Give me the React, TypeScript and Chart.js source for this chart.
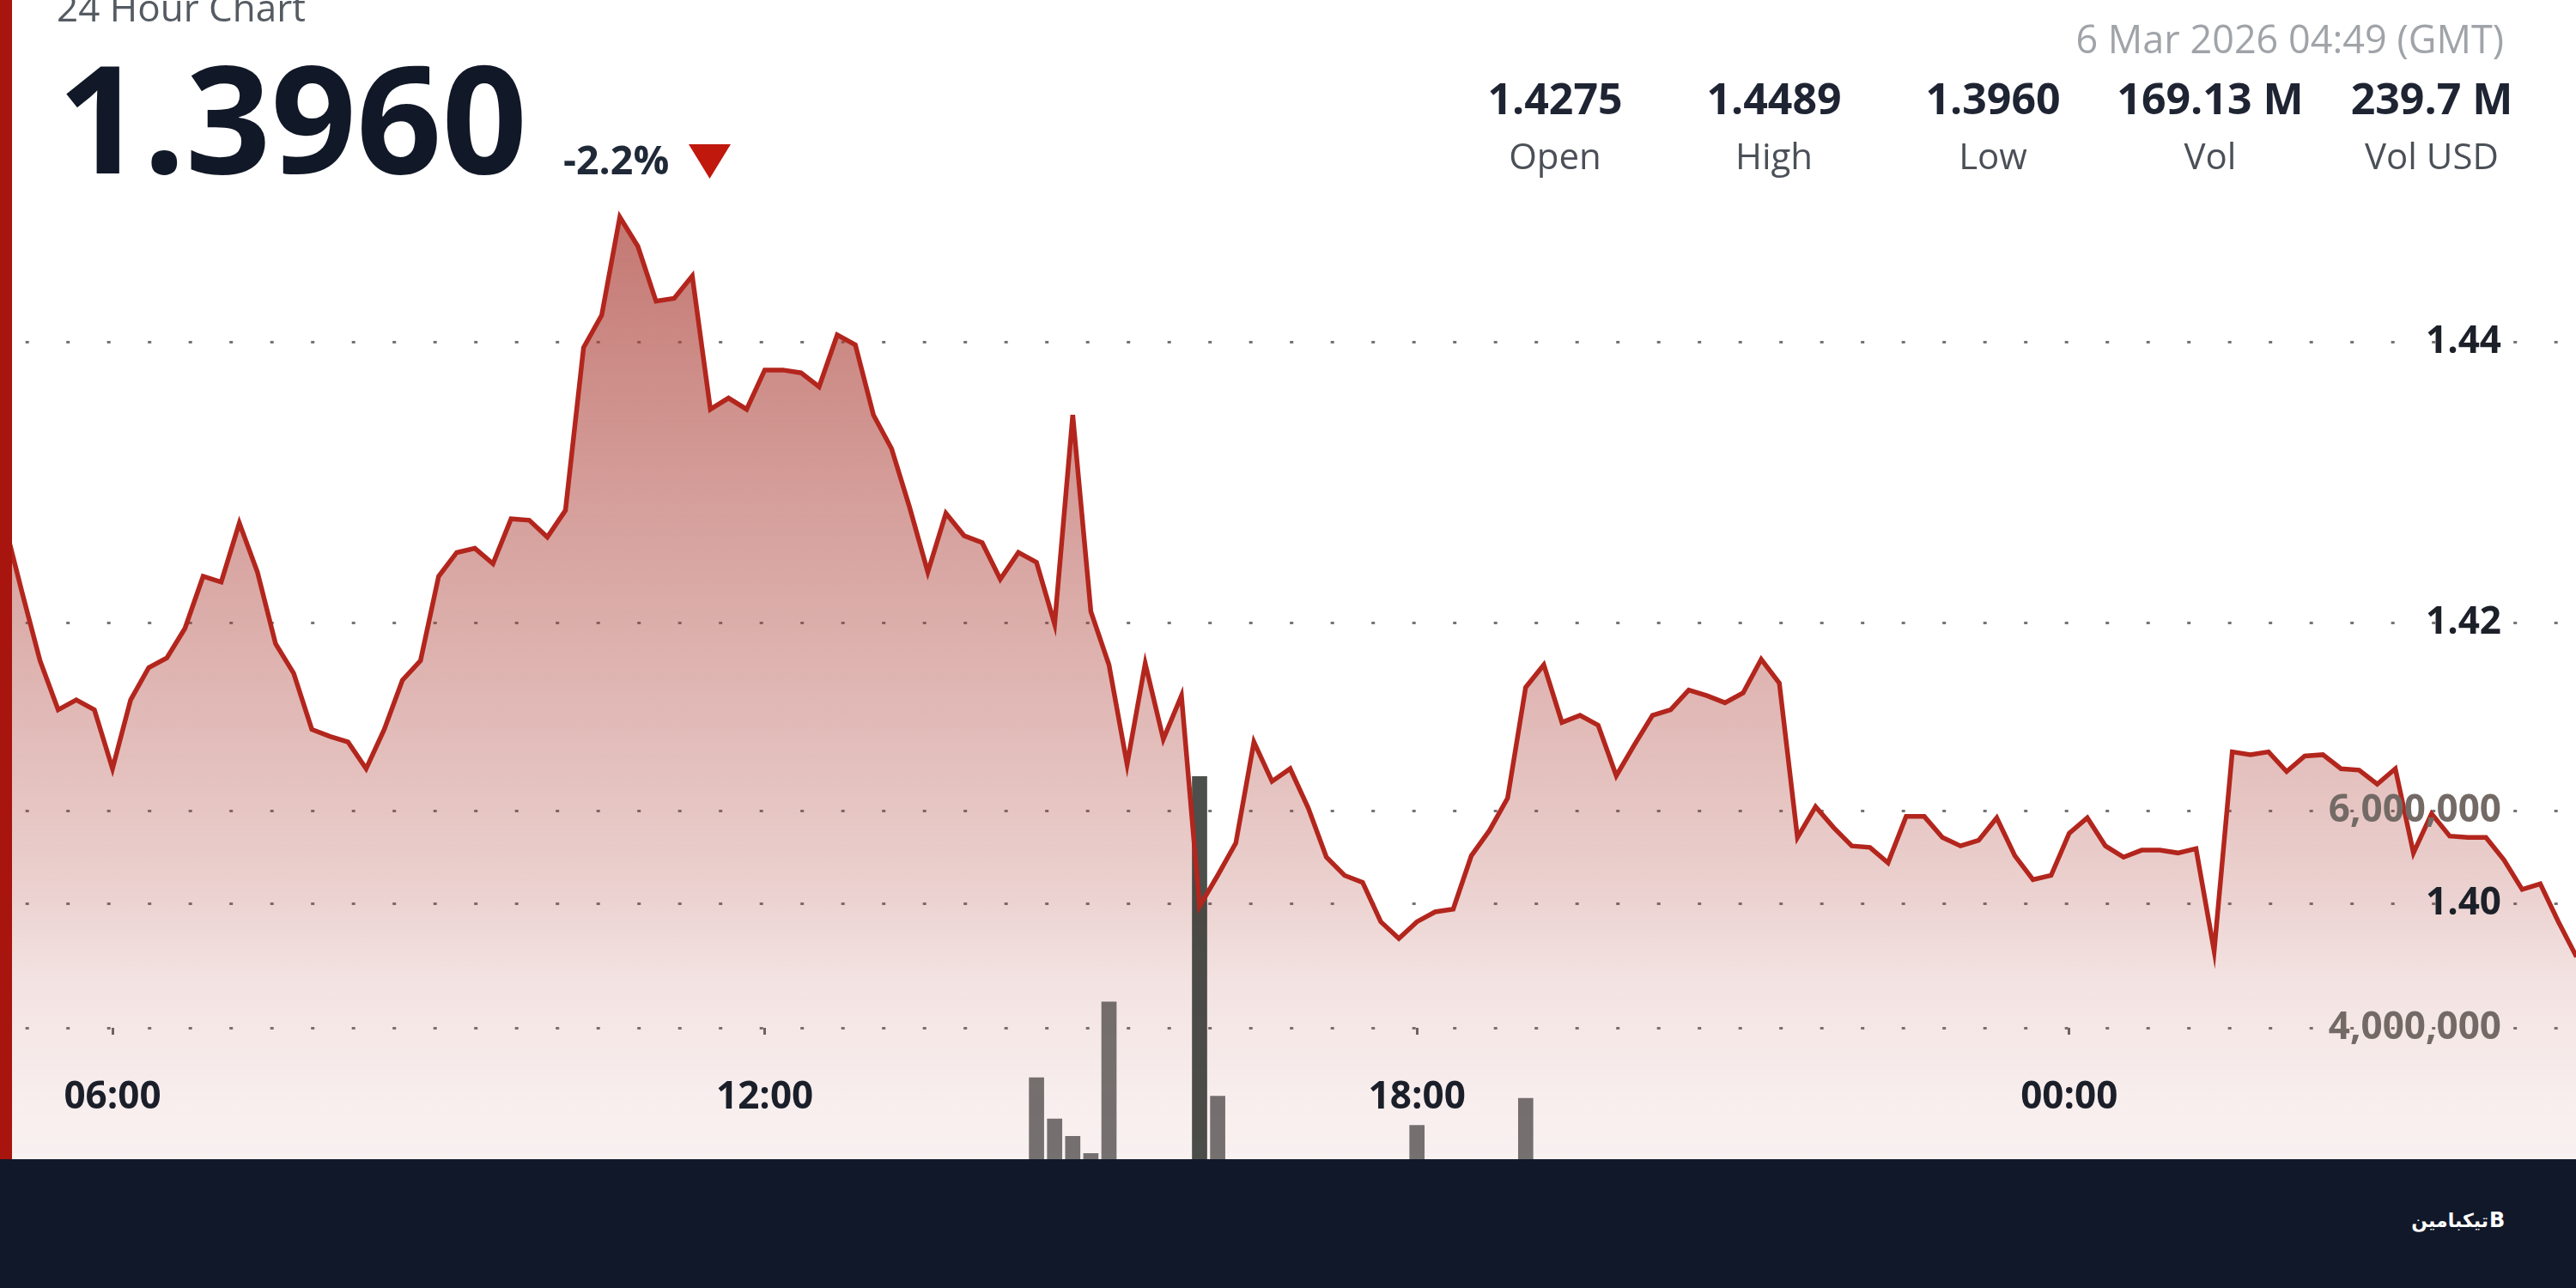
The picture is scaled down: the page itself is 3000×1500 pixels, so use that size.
import React, { useEffect, useRef } from "react";
import { Chart, registerables } from "chart.js";

Chart.register(...registerables);

// ---------- data ----------
const priceTimes: string[] = [
  "05:00", "05:10", "05:20", "05:30", "05:40", "05:50",
  "06:00", "06:10", "06:20", "06:30", "06:40", "06:50",
  "07:00", "07:10", "07:20", "07:30", "07:40", "07:50",
  "08:00", "08:10", "08:20", "08:30", "08:40", "08:50",
  "09:00", "09:10", "09:20", "09:30", "09:40", "09:50",
  "10:00", "10:10", "10:20", "10:30", "10:40", "10:50",
  "11:00", "11:10", "11:20", "11:30", "11:40", "11:50",
  "12:00", "12:10", "12:20", "12:30", "12:40", "12:50",
  "13:00", "13:10", "13:20", "13:30", "13:40", "13:50",
  "14:00", "14:10", "14:20", "14:30", "14:40", "14:50",
  "15:00", "15:10", "15:20", "15:30", "15:40", "15:50",
  "16:00", "16:10", "16:20", "16:30", "16:40", "16:50",
  "17:00", "17:10", "17:20", "17:30", "17:40", "17:50",
  "18:00", "18:10", "18:20", "18:30", "18:40", "18:50",
  "19:00", "19:10", "19:20", "19:30", "19:40", "19:50",
  "20:00", "20:10", "20:20", "20:30", "20:40", "20:50",
  "21:00", "21:10", "21:20", "21:30", "21:40", "21:50",
  "22:00", "22:10", "22:20", "22:30", "22:40", "22:50",
  "23:00", "23:10", "23:20", "23:30", "23:40", "23:50",
  "00:00", "00:10", "00:20", "00:30", "00:40", "00:50",
  "01:00", "01:10", "01:20", "01:30", "01:40", "01:50",
  "02:00", "02:10", "02:20", "02:30", "02:40", "02:50",
  "03:00", "03:10", "03:20", "03:30", "03:40", "03:50",
  "04:00", "04:10", "04:20", "04:30", "04:40",
];

const priceValues: number[] = [
  1.4273, 1.4222, 1.4173, 1.4138, 1.4145, 1.4138,
  1.4096, 1.4145, 1.4168, 1.4175, 1.4196, 1.4233,
  1.4229, 1.4271, 1.4236, 1.4185, 1.4164, 1.4124,
  1.4119, 1.4115, 1.4096, 1.4124, 1.4159, 1.4173,
  1.4233, 1.425, 1.4253, 1.4242, 1.4274, 1.4273,
  1.4261, 1.428, 1.4396, 1.4419, 1.4489, 1.4468,
  1.4429, 1.4431, 1.4447, 1.4352, 1.436, 1.4352,
  1.438, 1.438, 1.4378, 1.4368, 1.4405, 1.4398,
  1.4348, 1.4324, 1.4282, 1.4236, 1.4278, 1.4262,
  1.4257, 1.4231, 1.425, 1.4243, 1.4199, 1.4348,
  1.4208, 1.417, 1.4099, 1.4171, 1.4117, 1.4148,
  1.3998, 1.402, 1.4043, 1.4115, 1.4087, 1.4096,
  1.4068, 1.4033, 1.402, 1.4015, 1.3987, 1.3975,
  1.3987, 1.3994, 1.3996, 1.4034, 1.4052, 1.4075,
  1.4154, 1.417, 1.4129, 1.4134, 1.4127, 1.4091,
  1.4113, 1.4134, 1.4138, 1.4152, 1.4148, 1.4143,
  1.415, 1.4174, 1.4157, 1.4047, 1.4069, 1.4054,
  1.4041, 1.404, 1.4029, 1.4062, 1.4062, 1.4047,
  1.4041, 1.4045, 1.4061, 1.4034, 1.4017, 1.402,
  1.405, 1.4061, 1.4041, 1.4033, 1.4038, 1.4038,
  1.4036, 1.4039, 1.3966, 1.4108, 1.4106, 1.4108,
  1.4094, 1.4105, 1.4106, 1.4096, 1.4095, 1.4085,
  1.4096, 1.4036, 1.4064, 1.4048, 1.4047, 1.4047,
  1.4031, 1.401, 1.4014, 1.3987, 1.3962,
];

const volumeTimes: string[] = ["14:30", "14:40", "14:50", "15:00", "15:10", "16:00", "16:10", "18:00", "19:00"];
const volumeValues: number[] = [3540000, 3160000, 3000000, 2840000, 4240000, 6320000, 3370000, 3100000, 3350000];

const priceTicks: number[] = [1.4, 1.42, 1.44];
const volumeTicks: number[] = [4000000, 6000000];
const timeTicks: string[] = ["06:00", "12:00", "18:00", "00:00"];

const statValues: string[] = ["1.4275", "1.4489", "1.3960", "169.13 M", "239.7 M"];
const statLabels: string[] = ["Open", "High", "Low", "Vol", "Vol USD"];

const chartTitle = "24 Hour Chart";
const lastPrice = "1.3960";
const changeText = "-2.2%";
const timestampText = "6 Mar 2026 04:49 (GMT)";
const brandText = "تیکبامین";

// ---------- helpers ----------
function toHours(label: string): number {
  const [h, m] = label.split(":").map(Number);
  const t = h + m / 60;
  return t < 5 ? t + 24 : t;
}

const zeroPad = (s: any) => {
  s.paddingTop = 0;
  s.paddingBottom = 0;
  s.paddingLeft = 0;
  s.paddingRight = 0;
};

const gridDash = { display: false, dash: [4, 43.5], dashOffset: 17.8 };
const axisFont = { family: "'Open Sans'", weight: "bold", size: 44 };

function ChartCanvas() {
  const ref = useRef<HTMLCanvasElement | null>(null);

  useEffect(() => {
    const canvas = ref.current;
    if (!canvas) return;
    const chart = new Chart(canvas, {
      type: "line",
      data: {
        datasets: [
          {
            type: "line",
            data: priceTimes.map((t, i) => ({ x: toHours(t), y: priceValues[i] })),
            yAxisID: "y",
            borderColor: "#b3261d",
            borderWidth: 5.5,
            pointRadius: 0,
            tension: 0,
            fill: "start",
            backgroundColor: (context: any) => {
              const { chart: c } = context;
              const area = c.chartArea;
              if (!area) return "rgba(171,62,54,0.3)";
              const g = c.ctx.createLinearGradient(0, area.top, 0, area.bottom);
              g.addColorStop(0, "rgba(171,62,54,0.78)");
              g.addColorStop(0.185, "rgba(171,62,54,0.70)");
              g.addColorStop(0.444, "rgba(171,62,54,0.49)");
              g.addColorStop(0.667, "rgba(171,62,54,0.32)");
              g.addColorStop(0.766, "rgba(171,62,54,0.24)");
              g.addColorStop(0.852, "rgba(171,62,54,0.14)");
              g.addColorStop(0.946, "rgba(171,62,54,0.09)");
              g.addColorStop(1, "rgba(171,62,54,0.07)");
              return g;
            },
          } as any,
          {
            type: "bar",
            data: volumeTimes.map((t, i) => ({ x: toHours(t), y: volumeValues[i] })),
            yAxisID: "vol",
            backgroundColor: (context: any) => {
              const v = context.raw && context.raw.y;
              return v >= 6000000 ? "rgba(45,48,44,0.85)" : "rgba(55,52,50,0.68)";
            },
            barThickness: 17,
          } as any,
        ],
      },
      options: {
        responsive: false,
        animation: false,
        layout: { padding: 0 },
        plugins: {
          legend: { display: false },
          tooltip: { enabled: false },
          filler: { drawTime: "beforeDatasetsDraw" },
        } as any,
        scales: {
          x: {
            type: "linear",
            min: 4.965,
            max: 28.662,
            offset: false,
            position: { vol: 4000000 } as any,
            afterBuildTicks: (axis: any) => {
              axis.ticks = timeTicks.map((t) => ({ value: toHours(t) }));
            },
            afterFit: zeroPad,
            ticks: {
              autoSkip: false,
              maxRotation: 0,
              minRotation: 0,
              padding: 47,
              color: "#1b1f2a",
              font: axisFont,
              callback: (v: any) => {
                const i = timeTicks.findIndex((t) => Math.abs(toHours(t) - Number(v)) < 1e-6);
                return i >= 0 ? timeTicks[i] : "";
              },
              z: 1,
            } as any,
            grid: { offset: false, drawOnChartArea: false, drawTicks: true, tickLength: 8, tickWidth: 3, tickColor: "#666666" },
            border: { display: false },
          },
          y: {
            type: "linear",
            position: "right",
            min: 1.381786,
            max: 1.464355,
            afterBuildTicks: (axis: any) => {
              axis.ticks = priceTicks.map((v) => ({ value: v }));
            },
            afterFit: (s: any) => {
              zeroPad(s);
              s.width = 0;
            },
            ticks: {
              mirror: true,
              padding: -87,
              color: "#1c2029",
              font: axisFont,
              callback: (v: any) => Number(v).toFixed(2),
              z: 1,
            } as any,
            grid: { color: "#747474", lineWidth: 3, drawTicks: false },
            border: gridDash as any,
          },
          vol: {
            type: "linear",
            position: "right",
            min: 2788000,
            max: 13486000,
            afterBuildTicks: (axis: any) => {
              axis.ticks = volumeTicks.map((v) => ({ value: v }));
            },
            afterFit: (s: any) => {
              zeroPad(s);
              s.width = 0;
            },
            ticks: {
              mirror: true,
              padding: -87,
              color: "#736a66",
              font: axisFont,
              callback: (v: any) => Number(v).toLocaleString("en-US"),
              z: 1,
            } as any,
            grid: { color: "#747474", lineWidth: 3, drawTicks: false },
            border: gridDash as any,
          },
        },
      } as any,
    });
    return () => chart.destroy();
  }, []);

  return <canvas ref={ref} width={3000} height={1350} style={{ display: "block", width: 3000, height: 1350 }} />;
}

const statCenters = [1811, 2066, 2321, 2574, 2832];

export default function App() {
  const abs = (s: React.CSSProperties): React.CSSProperties => ({ position: "absolute", whiteSpace: "nowrap", ...s });
  return (
    <div
      style={{
        position: "fixed",
        left: 0,
        top: 0,
        width: 3000,
        height: 1500,
        background: "#ffffff",
        overflow: "hidden",
        fontFamily: "'Open Sans', sans-serif",
      }}
    >
      <div style={abs({ left: 0, top: 0, width: 3000, height: 1350 })}>
        <ChartCanvas />
      </div>
      <div style={abs({ left: 0, top: 0, width: 14, height: 1350, background: "#a8150e" })} />
      <div style={abs({ left: 66, top: -14, fontSize: 44, lineHeight: "44px", color: "#555b62" })}>{chartTitle}</div>
      <div style={abs({ left: 67, top: 47.5, fontSize: 174, lineHeight: "174px", fontWeight: 700, color: "#111827" })}>{lastPrice}</div>
      <div style={abs({ left: 656, top: 161.7, fontSize: 46.5, lineHeight: "46.5px", fontWeight: 700, color: "#1f2937" })}>{changeText}</div>
      <div
        style={abs({
          left: 802,
          top: 168,
          width: 49,
          height: 40,
          background: "#c0180d",
          clipPath: "polygon(0 0, 100% 0, 50% 100%)",
        })}
      />
      <div style={abs({ right: 84, top: 22, fontSize: 45, lineHeight: "45px", color: "#a0a4a9" })}>{timestampText}</div>
      {statValues.map((v, i) => (
        <div key={"v" + i} style={abs({ left: statCenters[i] - 150, width: 300, textAlign: "center", top: 88.6, fontSize: 50, lineHeight: "50px", fontWeight: 700, color: "#1f2433" })}>
          {v}
        </div>
      ))}
      {statLabels.map((v, i) => (
        <div key={"l" + i} style={abs({ left: statCenters[i] - 150, width: 300, textAlign: "center", top: 159.7, fontSize: 42, lineHeight: "42px", color: "#4b5058" })}>
          {v}
        </div>
      ))}
      <div style={abs({ left: 0, top: 1350, width: 3000, height: 150, background: "#111829" })} />
      <div dir="rtl" style={abs({ right: 102, top: 1408, fontSize: 22, lineHeight: "28px", fontWeight: 700, color: "#ffffff", fontFamily: "'DejaVu Sans', sans-serif" })}>
        {brandText}
      </div>
      <div style={abs({ left: 2899, top: 1407, fontSize: 24, lineHeight: "28px", fontWeight: 700, color: "#ffffff", fontFamily: "'DejaVu Sans', sans-serif" })}>B</div>
    </div>
  );
}
